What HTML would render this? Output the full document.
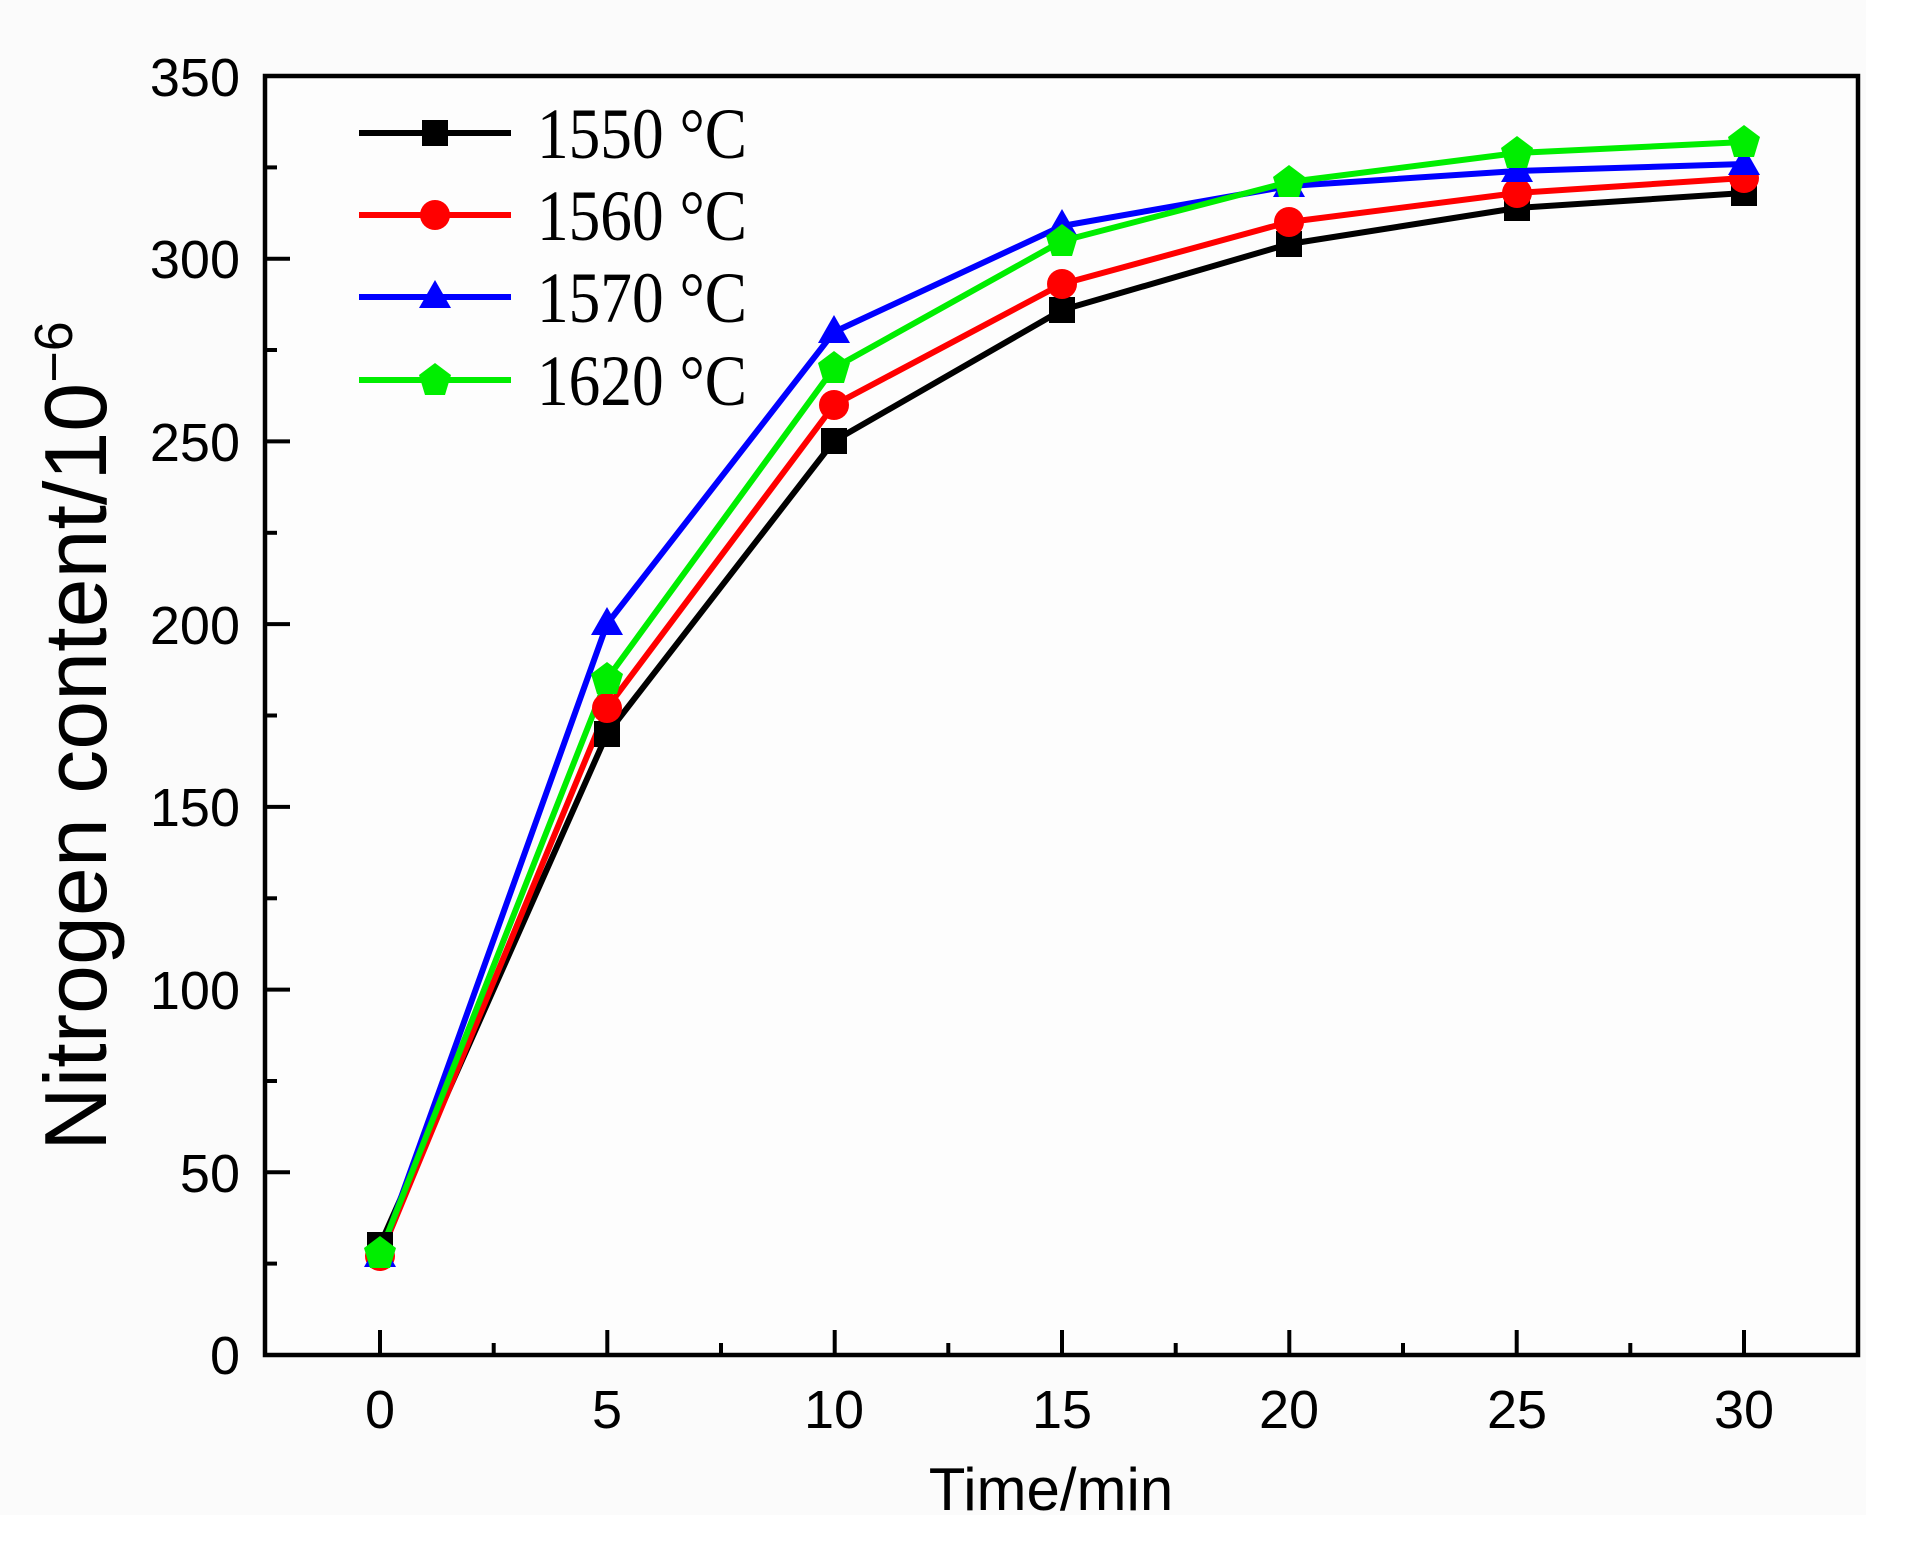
<!DOCTYPE html>
<html><head><meta charset="utf-8"><style>
html,body{margin:0;padding:0;background:#fff;}
svg{display:block;}
</style></head><body>
<svg width="1910" height="1548" viewBox="0 0 1910 1548" xmlns="http://www.w3.org/2000/svg">
<rect x="0" y="0" width="1866" height="1515" fill="#fbfbfb"/>
<rect x="265" y="76" width="1593" height="1279" fill="#fdfdfd" stroke="#000" stroke-width="4.5"/>
<g stroke="#000" stroke-width="4">
<line x1="380" y1="1355" x2="380" y2="1330"/><line x1="493.7" y1="1355" x2="493.7" y2="1343"/>
<line x1="607.3" y1="1355" x2="607.3" y2="1330"/><line x1="721" y1="1355" x2="721" y2="1343"/>
<line x1="834.7" y1="1355" x2="834.7" y2="1330"/><line x1="948.3" y1="1355" x2="948.3" y2="1343"/>
<line x1="1062" y1="1355" x2="1062" y2="1330"/><line x1="1175.7" y1="1355" x2="1175.7" y2="1343"/>
<line x1="1289.3" y1="1355" x2="1289.3" y2="1330"/><line x1="1403" y1="1355" x2="1403" y2="1343"/>
<line x1="1516.7" y1="1355" x2="1516.7" y2="1330"/><line x1="1630.3" y1="1355" x2="1630.3" y2="1343"/>
<line x1="1744" y1="1355" x2="1744" y2="1330"/>
<line x1="265" y1="1172.3" x2="290" y2="1172.3"/><line x1="265" y1="989.6" x2="290" y2="989.6"/>
<line x1="265" y1="806.9" x2="290" y2="806.9"/><line x1="265" y1="624.1" x2="290" y2="624.1"/>
<line x1="265" y1="441.4" x2="290" y2="441.4"/><line x1="265" y1="258.7" x2="290" y2="258.7"/>
<line x1="265" y1="1263.6" x2="277" y2="1263.6"/><line x1="265" y1="1081" x2="277" y2="1081"/>
<line x1="265" y1="898.3" x2="277" y2="898.3"/><line x1="265" y1="715.5" x2="277" y2="715.5"/>
<line x1="265" y1="532.8" x2="277" y2="532.8"/><line x1="265" y1="350" x2="277" y2="350"/>
<line x1="265" y1="167.4" x2="277" y2="167.4"/>
</g>
<g font-family="Liberation Sans, sans-serif" font-size="54" fill="#000" text-anchor="end">
<text x="240" y="1374">0</text><text x="240" y="1192">50</text><text x="240" y="1009">100</text>
<text x="240" y="826">150</text><text x="240" y="644">200</text><text x="240" y="461">250</text>
<text x="240" y="278">300</text><text x="240" y="96">350</text>
</g>
<g font-family="Liberation Sans, sans-serif" font-size="54" fill="#000" text-anchor="middle">
<text x="380" y="1428">0</text><text x="607" y="1428">5</text><text x="834" y="1428">10</text>
<text x="1062" y="1428">15</text><text x="1289" y="1428">20</text><text x="1517" y="1428">25</text>
<text x="1744" y="1428">30</text>
<text x="1051" y="1510" font-size="60">Time/min</text>
</g>
<text transform="translate(106,736) rotate(-90)" font-family="Liberation Sans, sans-serif" font-size="88" text-anchor="middle">Nitrogen content/10<tspan dy="-34" font-size="54">−6</tspan></text>
<g fill="none" stroke-width="6" stroke-linejoin="round">
<polyline stroke="#000" points="380,1245 607,734 834,441 1062,310 1289,244 1517,208 1744,193"/>
<polyline stroke="#f00" points="380,1256 607,708 834,405 1062,284 1289,222 1517,193 1744,178"/>
<polyline stroke="#00f" points="380,1256 607,624 834,332 1062,226 1289,186 1517,171 1744,164"/>
<polyline stroke="#0e0" points="380,1253 607,679 834,368 1062,241 1289,182 1517,153 1744,142"/>
</g>
<g fill="#000">
<rect x="367" y="1232" width="26" height="26"/><rect x="594" y="721" width="26" height="26"/>
<rect x="821" y="428" width="26" height="26"/><rect x="1049" y="297" width="26" height="26"/>
<rect x="1276" y="231" width="26" height="26"/><rect x="1504" y="195" width="26" height="26"/>
<rect x="1731" y="180" width="26" height="26"/>
</g>
<g fill="#f00">
<circle cx="380" cy="1256" r="15"/><circle cx="607" cy="708" r="15"/><circle cx="834" cy="405" r="15"/>
<circle cx="1062" cy="284" r="15"/><circle cx="1289" cy="222" r="15"/><circle cx="1517" cy="193" r="15"/>
<circle cx="1744" cy="178" r="15"/>
</g>
<g fill="#00f">
<polygon points="380,1239 396,1267 364,1267"/><polygon points="607,607 623,635 591,635"/>
<polygon points="834,315 850,343 818,343"/><polygon points="1062,209 1078,237 1046,237"/>
<polygon points="1289,169 1305,197 1273,197"/><polygon points="1517,154 1533,182 1501,182"/>
<polygon points="1744,147 1760,175 1728,175"/>
</g>
<g fill="#0e0">
<polygon transform="translate(380,1253)" points="0,-17 16,-5 10,15 -10,15 -16,-5"/>
<polygon transform="translate(607,679)" points="0,-17 16,-5 10,15 -10,15 -16,-5"/>
<polygon transform="translate(834,368)" points="0,-17 16,-5 10,15 -10,15 -16,-5"/>
<polygon transform="translate(1062,241)" points="0,-17 16,-5 10,15 -10,15 -16,-5"/>
<polygon transform="translate(1289,182)" points="0,-17 16,-5 10,15 -10,15 -16,-5"/>
<polygon transform="translate(1517,153)" points="0,-17 16,-5 10,15 -10,15 -16,-5"/>
<polygon transform="translate(1744,142)" points="0,-17 16,-5 10,15 -10,15 -16,-5"/>
</g>
<g stroke-width="6">
<line x1="359" y1="133" x2="511" y2="133" stroke="#000"/>
<line x1="359" y1="215" x2="511" y2="215" stroke="#f00"/>
<line x1="359" y1="297" x2="511" y2="297" stroke="#00f"/>
<line x1="359" y1="380" x2="511" y2="380" stroke="#0e0"/>
</g>
<rect x="422" y="120" width="26" height="26" fill="#000"/>
<circle cx="435" cy="215" r="15" fill="#f00"/>
<polygon points="435,280 451,308 419,308" fill="#00f"/>
<polygon transform="translate(435,380)" points="0,-17 16,-5 10,15 -10,15 -16,-5" fill="#0e0"/>
<g font-family="Liberation Serif, serif" font-size="72" fill="#000">
<text x="537" y="158" textLength="210" lengthAdjust="spacingAndGlyphs">1550 °C</text>
<text x="537" y="240" textLength="210" lengthAdjust="spacingAndGlyphs">1560 °C</text>
<text x="537" y="322" textLength="210" lengthAdjust="spacingAndGlyphs">1570 °C</text>
<text x="537" y="405" textLength="210" lengthAdjust="spacingAndGlyphs">1620 °C</text>
</g>
</svg>
</body></html>
